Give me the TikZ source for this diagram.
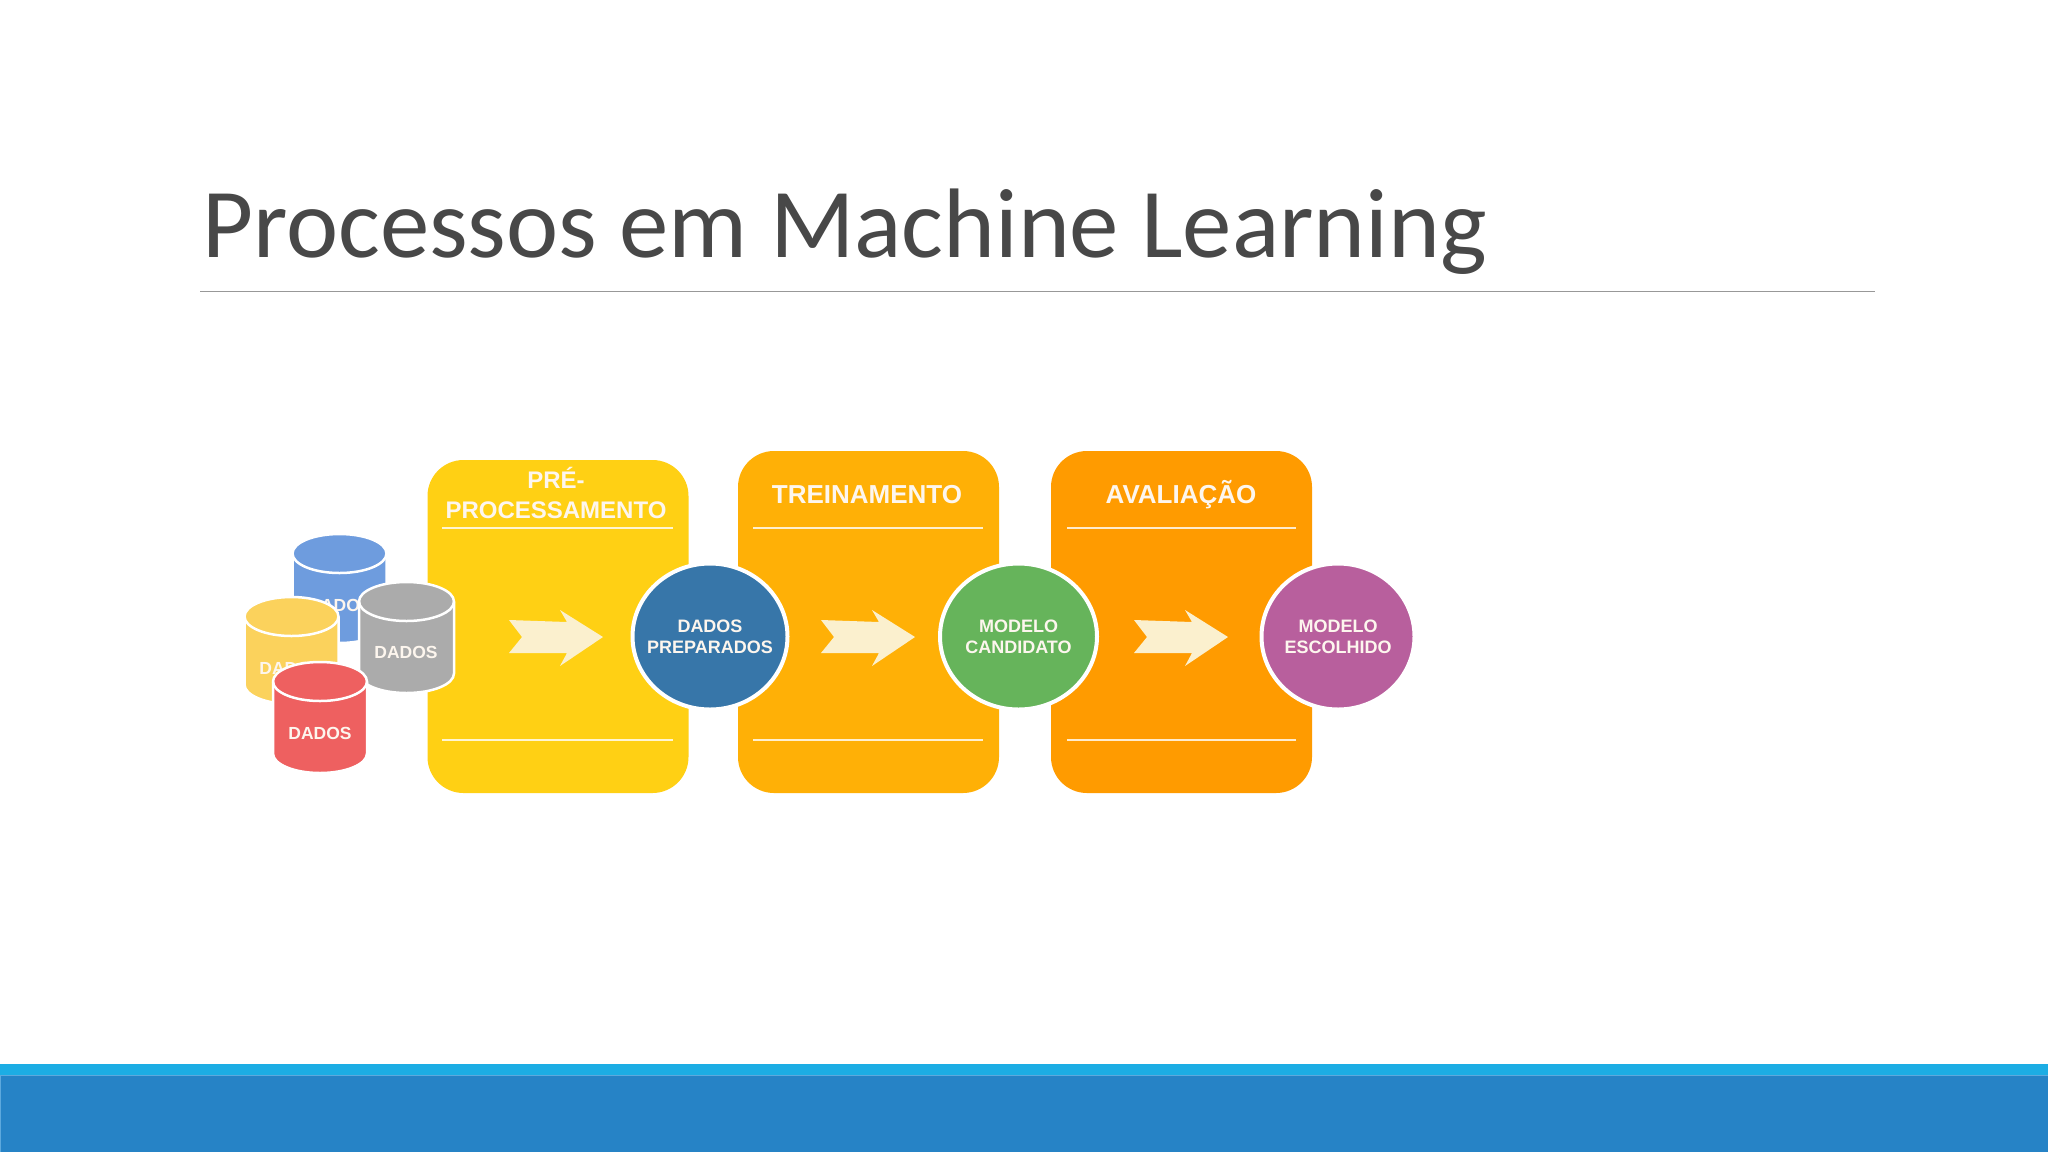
\documentclass[tikz,border=0pt]{standalone}
\usepackage{fontspec}
\usetikzlibrary{shapes.geometric}
\setmainfont{Liberation Sans}
\newfontfamily\titlefont{Carlito}
\definecolor{titlegrey}{HTML}{484848}
\definecolor{rulegrey}{HTML}{989898}
\definecolor{bandlight}{HTML}{1CADE4}
\definecolor{banddark}{HTML}{2683C6}
\definecolor{bandedge}{HTML}{5DA9DD}
\definecolor{stageone}{HTML}{FFD014}
\definecolor{stagetwo}{HTML}{FFB006}
\definecolor{stagethree}{HTML}{FF9B00}
\definecolor{arrowcream}{HTML}{FBF0CE}
\definecolor{ballblue}{HTML}{3776A9}
\definecolor{ballgreen}{HTML}{66B45B}
\definecolor{ballpurple}{HTML}{B85F9D}
\definecolor{cylblue}{HTML}{6E9CDE}
\definecolor{cylyellow}{HTML}{FBD25C}
\definecolor{cylgrey}{HTML}{ABABAB}
\definecolor{cylred}{HTML}{EE6060}
\definecolor{softwhite}{HTML}{FDF6EE}
\tikzset{
  stagebox/.style={rectangle,rounded corners=36pt,minimum width=261pt,inner sep=0pt,draw=none},
  stagetitle/.style={text=softwhite,font=\bfseries\fontsize{26}{30}\selectfont,align=center,inner sep=0pt,anchor=center},
  stagerule/.style={draw=white,opacity=.8,line width=1.6pt},
  ball/.style={ellipse,minimum width=155pt,minimum height=146pt,inner sep=0pt,draw=white,line width=4pt},
  balltext/.style={text=softwhite,align=center,inner sep=0pt,font=\bfseries\fontsize{18}{21}\selectfont},
  flowarrow/.style={fill=arrowcream,draw=none},
  cylbody/.style={draw=white,line width=2.5pt},
  cyllabel/.style={text=softwhite,font=\bfseries\fontsize{17.5}{20}\selectfont,inner sep=0pt},
}
% centre x, half width, top y, lid height, bottom y, colour
\newcommand{\datacyl}[6]{%
  \pgfmathsetmacro{\ry}{#4/2}
  \pgfmathsetmacro{\lidy}{-(#3)-\ry}
  \pgfmathsetmacro{\boty}{-(#5)+\ry}
  \pgfmathsetmacro{\xl}{#1-#2}
  \pgfmathsetmacro{\xr}{#1+#2}
  \path[cylbody,fill=#6] (\xl,\lidy) -- (\xl,\boty) arc (180:360:#2 and \ry) -- (\xr,\lidy) arc (0:180:#2 and \ry) -- cycle;
  \draw[draw=white,line width=2.5pt] (\xl,\lidy) arc (180:360:#2 and \ry);
}
% tip x
\newcommand{\flowarrowat}[1]{%
  \fill[flowarrow,shift={(#1,-637)}] (-94,17) -- (-36,15) -- (-43,27) -- (0,0) -- (-43,-29) -- (-36,-16) -- (-94,-16) -- (-81,0) -- cycle;
}
\begin{document}
\begin{tikzpicture}[x=1pt,y=1pt]
\useasboundingbox (0,0) rectangle (2048,-1152);
\fill[white] (0,0) rectangle (2048,-1152);

% title
\node[anchor=base west,inner sep=0pt,text=titlegrey,font=\titlefont\fontsize{98.8}{110}\selectfont] (title) at (202,-257) {Processos em Machine Learning};
\coordinate (ruleL) at (200,-291.5);
\coordinate (ruleR) at (1875,-291.5);
\draw[rulegrey,line width=1.5pt] (ruleL) -- (ruleR);

% footer band
\fill[bandlight] (0,-1064) rectangle (2048,-1075);
\fill[banddark] (0,-1075) rectangle (2048,-1152);
\draw[bandedge,line width=1pt] (0.5,-1152) -- (0.5,-1075.5) -- (2048,-1075.5);

% stages
\node[stagebox,fill=stageone,minimum height=333pt] (boxA) at (558,-626.5) {};
\node[stagebox,fill=stagetwo,minimum height=342pt] (boxB) at (868.5,-622) {};
\node[stagebox,fill=stagethree,minimum height=342pt] (boxC) at (1181.5,-622) {};

\node[stagetitle,font=\bfseries\fontsize{24}{30}\selectfont] (titleA) at (556,-493) {PRÉ-\\PROCESSAMENTO};
\node[stagetitle] (titleB) at (867,-494.5) {TREINAMENTO};
\node[stagetitle] (titleC) at (1181,-494.5) {AVALIAÇÃO};

\draw[stagerule] (442,-528) -- (673,-528);
\draw[stagerule] (442,-740) -- (673,-740);
\draw[stagerule] (753,-528) -- (983,-528);
\draw[stagerule] (753,-740) -- (983,-740);
\draw[stagerule] (1067,-528) -- (1296,-528);
\draw[stagerule] (1067,-740) -- (1296,-740);

\flowarrowat{603}
\flowarrowat{915}
\flowarrowat{1228}

% circles
\node[ball,fill=ballblue] (ballA) at (710,-636.5) {};
\node[ball,fill=ballgreen,minimum width=157pt] (ballB) at (1018.5,-636.5) {};
\node[ball,fill=ballpurple,minimum width=153pt] (ballC) at (1338,-636.5) {};
\node[balltext] (ballAtext) at (ballA) {DADOS\\PREPARADOS};
\node[balltext] (ballBtext) at (ballB) {MODELO\\CANDIDATO};
\node[balltext] (ballCtext) at (ballC) {MODELO\\ESCOLHIDO};

% cylinders
\datacyl{339.5}{47}{534}{39}{643}{cylblue}
\node[cyllabel] (dadosBlue) at (340,-605) {DADOS};
\datacyl{291.5}{47}{597}{39}{704}{cylyellow}
\node[cyllabel] (dadosYellow) at (291,-668) {DADOS};
\datacyl{406.5}{47.5}{582}{39}{693}{cylgrey}
\node[cyllabel] (dadosGrey) at (406,-652) {DADOS};
\datacyl{320}{47}{662}{39}{773}{cylred}
\node[cyllabel] (dadosRed) at (320,-733) {DADOS};
\end{tikzpicture}
\end{document}
